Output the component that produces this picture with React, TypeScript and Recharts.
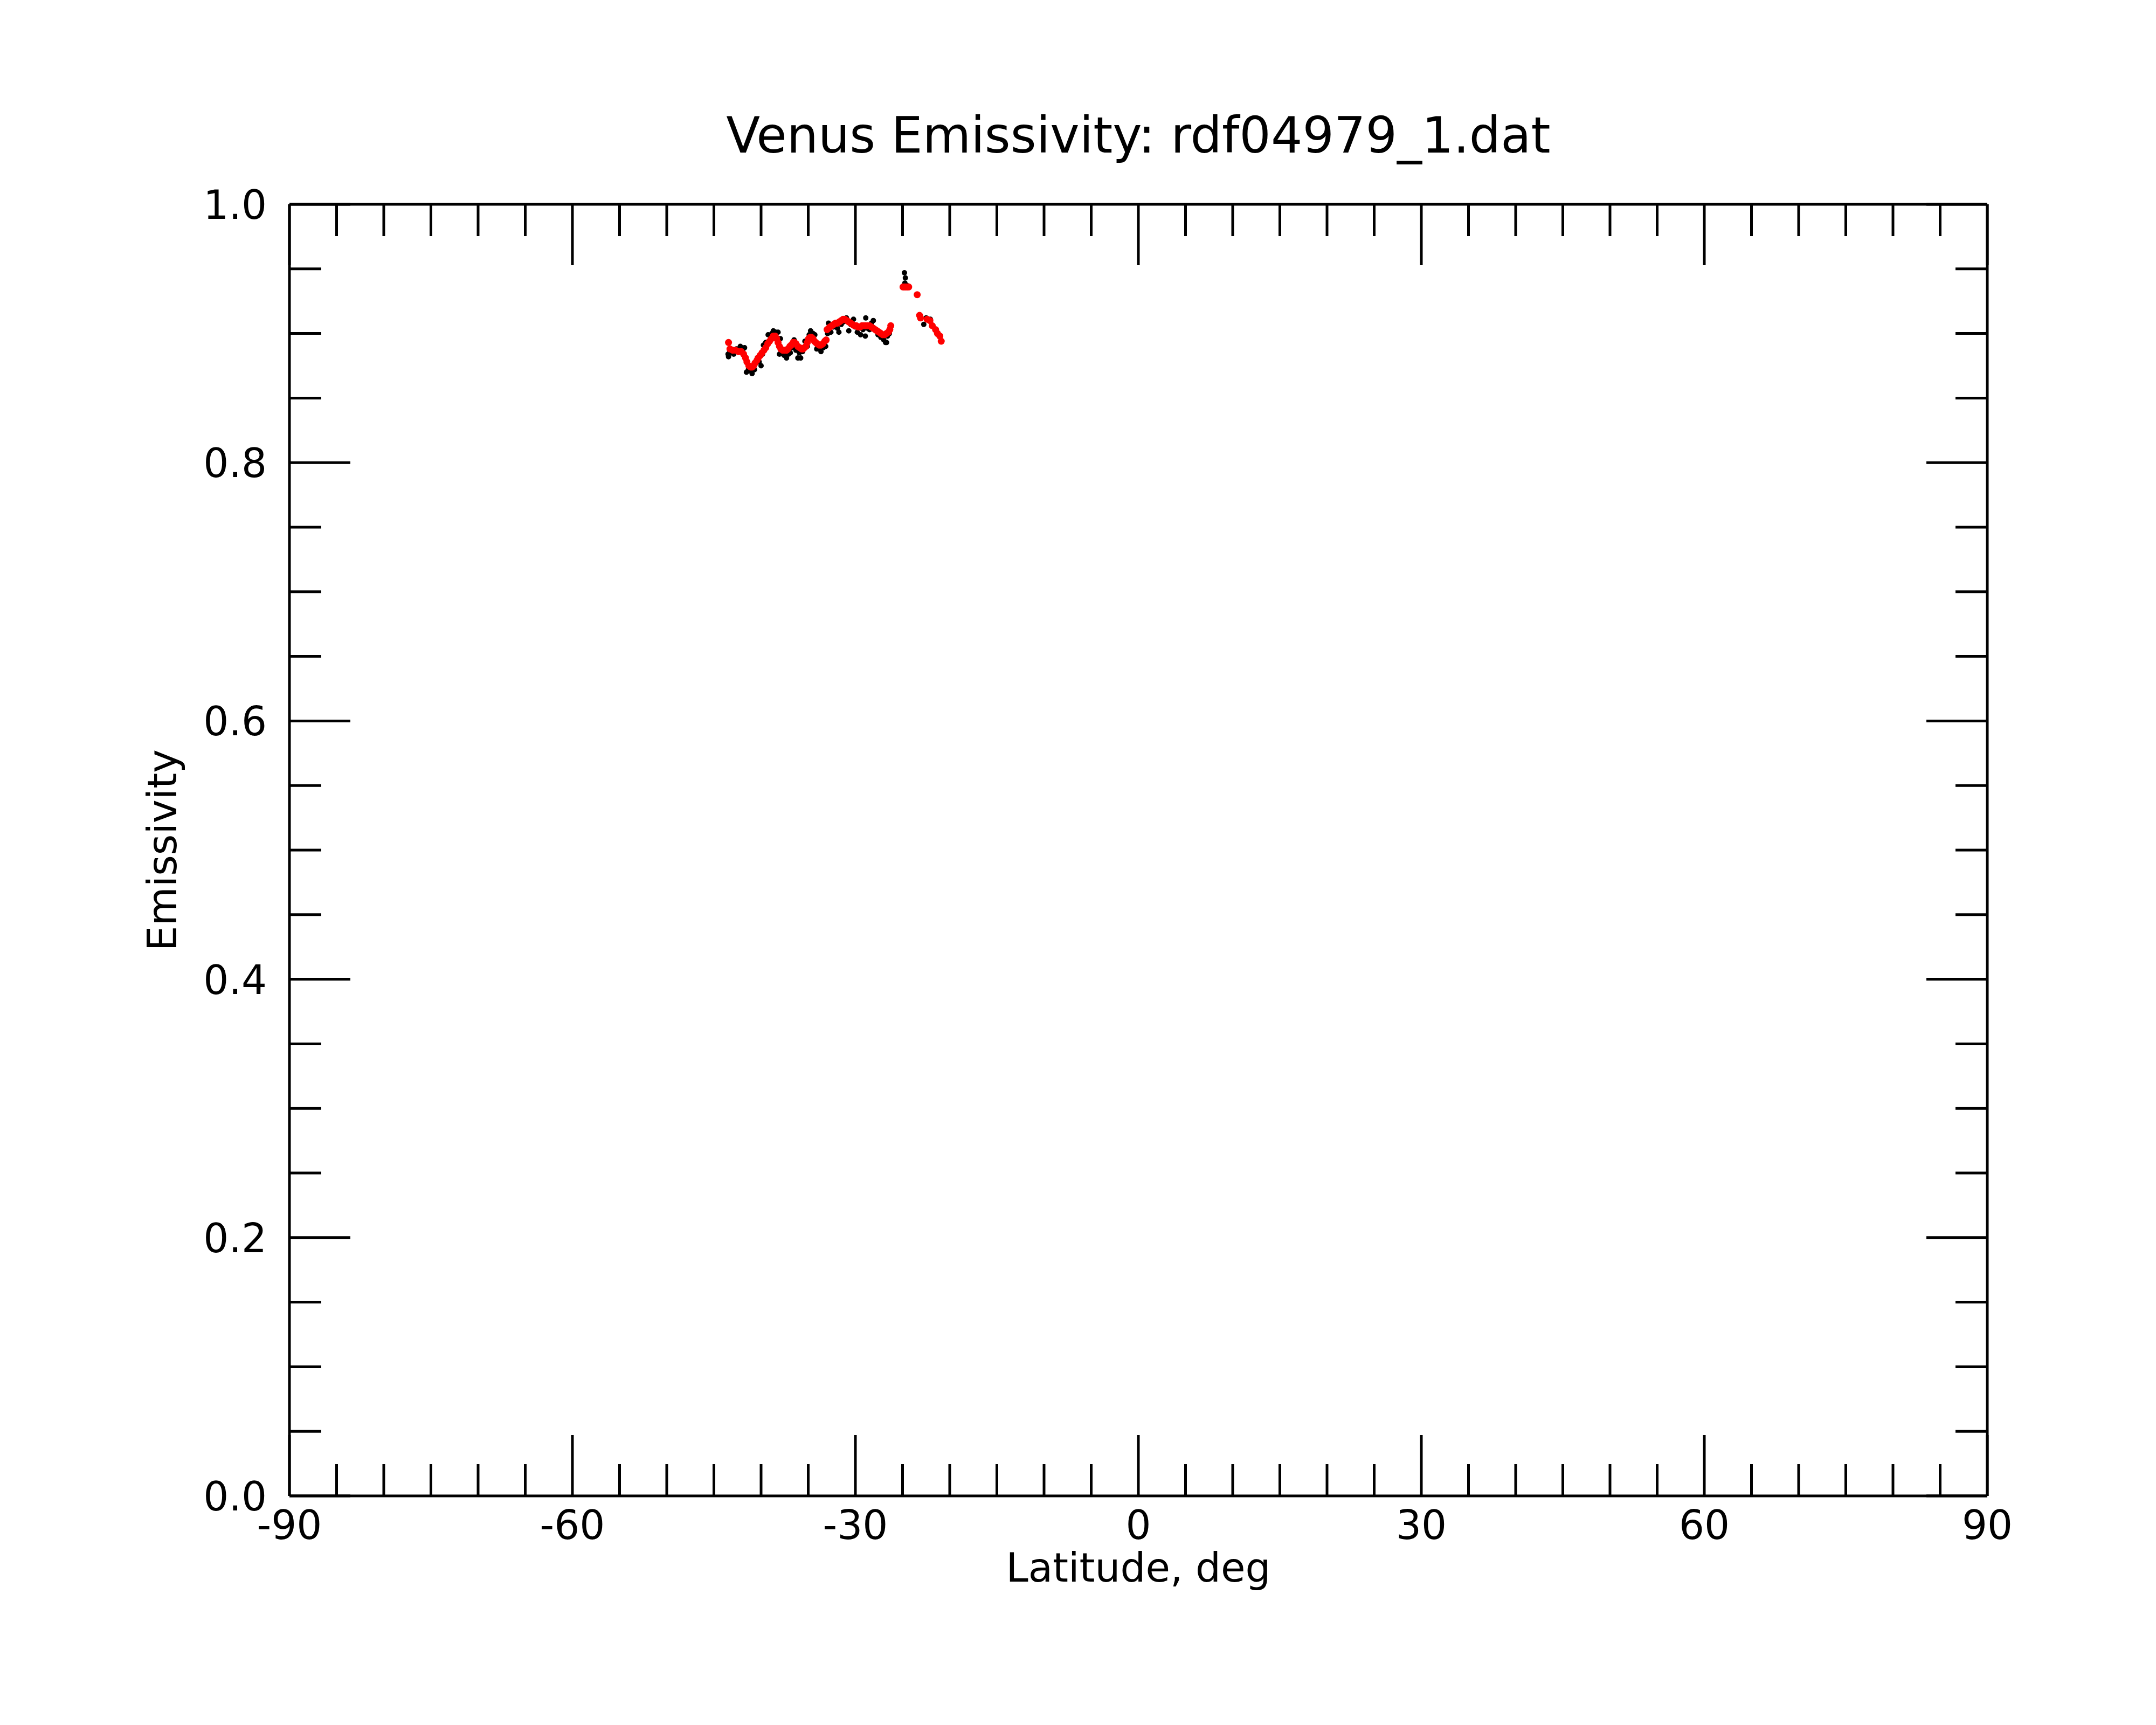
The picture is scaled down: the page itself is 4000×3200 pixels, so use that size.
import React from 'react';
import { ScatterChart, Scatter, XAxis, YAxis, Label } from 'recharts';

// raw emissivity samples (black)
const rawLat = [
  -43.5, -43.45, -43.3, -43.1, -42.9, -42.6, -42.4, -42.2, -41.95, -41.75,
  -41.55, -41.35, -41.15, -40.95, -40.7, -40.55, -40.4, -40.2, -40.0, -39.85,
  -39.75, -39.5, -39.25, -39.0, -38.85, -38.7, -38.45, -38.2, -38.05, -37.95,
  -37.75, -37.55, -37.3, -37.1, -36.9, -36.7, -36.5, -36.3, -36.1, -35.95,
  -35.8, -35.6, -35.35, -35.1, -34.9, -34.75, -34.5, -34.3, -34.1, -33.9,
  -33.65, -33.4, -33.15, -32.95, -32.85, -32.6, -32.35, -32.1, -31.9, -31.75,
  -31.5, -31.25, -30.95, -30.7, -30.5, -30.2, -30.0, -29.8, -29.45, -29.2,
  -28.95, -28.9, -28.7, -28.5, -28.3, -28.1, -27.9, -27.6, -27.3, -27.0,
  -26.8, -26.7, -26.6, -26.4, -24.8, -24.7, -24.75, -24.5, -22.75, -22.5,
  -22.05,
];
const rawEmis = [
  0.884, 0.882, 0.886, 0.885, 0.884, 0.888, 0.887, 0.890, 0.887, 0.889,
  0.870, 0.872, 0.871, 0.869, 0.872, 0.877, 0.881, 0.878, 0.875, 0.884,
  0.891, 0.893, 0.899, 0.898, 0.900, 0.902, 0.901, 0.901, 0.884, 0.896,
  0.886, 0.883, 0.881, 0.884, 0.885, 0.889, 0.895, 0.887, 0.881, 0.885,
  0.881, 0.886, 0.894, 0.890, 0.899, 0.902, 0.900, 0.899, 0.888, 0.889,
  0.886, 0.889, 0.890, 0.900, 0.908, 0.901, 0.905, 0.908, 0.904, 0.901,
  0.907, 0.909, 0.912, 0.902, 0.907, 0.911, 0.905, 0.901, 0.899, 0.903,
  0.898, 0.912, 0.904, 0.903, 0.908, 0.910, 0.903, 0.899, 0.897, 0.895,
  0.893, 0.893, 0.898, 0.900, 0.947, 0.943, 0.939, 0.937, 0.907, 0.912,
  0.911,
];

// filtered emissivity (red)
const fitLat = [
  -43.45, -43.3, -43.0, -42.7, -42.4, -42.1, -41.85, -41.65, -41.5, -41.3,
  -41.1, -40.95, -40.8, -40.65, -40.45, -40.3, -40.1, -39.9, -39.7, -39.5,
  -39.3, -39.1, -38.9, -38.7, -38.5, -38.35, -38.2, -38.05, -37.9, -37.7,
  -37.5, -37.3, -37.15, -36.95, -36.8, -36.6, -36.45, -36.3, -36.1, -35.9,
  -35.7, -35.55, -35.4, -35.25, -35.1, -34.95, -34.8, -34.65, -34.5, -34.35,
  -34.2, -34.05, -33.85, -33.65, -33.45, -33.25, -33.1, -33.0, -32.85, -32.7,
  -32.5, -32.3, -32.1, -31.9, -31.7, -31.5, -31.3, -31.1, -30.9, -30.7,
  -30.5, -30.3, -30.1, -29.9, -29.7, -29.5, -29.3, -29.1, -28.9, -28.7,
  -28.5, -28.3, -28.1, -27.9, -27.7, -27.5, -27.3, -27.1, -26.9, -26.7,
  -26.5, -26.35, -26.25, -24.95, -24.75, -24.55, -24.35, -23.45, -23.2, -23.1,
  -22.4, -22.1, -21.85, -21.5, -21.3, -21.05, -20.9,
];
const fitEmis = [
  0.893, 0.888, 0.887, 0.887, 0.886, 0.886, 0.884, 0.881, 0.878, 0.875,
  0.874, 0.874, 0.875, 0.877, 0.879, 0.881, 0.883, 0.885, 0.887, 0.889,
  0.892, 0.894, 0.896, 0.898, 0.898, 0.896, 0.893, 0.890, 0.888, 0.887,
  0.887, 0.887, 0.888, 0.890, 0.891, 0.893, 0.893, 0.892, 0.890, 0.889,
  0.888, 0.888, 0.889, 0.890, 0.893, 0.896, 0.897, 0.897, 0.896, 0.894,
  0.893, 0.892, 0.891, 0.891, 0.892, 0.894, 0.895, 0.903, 0.904, 0.905,
  0.906, 0.907, 0.908, 0.908, 0.909, 0.910, 0.911, 0.911, 0.910, 0.909,
  0.908, 0.907, 0.906, 0.906, 0.905, 0.905, 0.906, 0.906, 0.906, 0.906,
  0.906, 0.905, 0.904, 0.903, 0.902, 0.901, 0.900, 0.899, 0.899, 0.900,
  0.901, 0.903, 0.906, 0.936, 0.936, 0.936, 0.936, 0.930, 0.914, 0.912,
  0.911, 0.910, 0.906, 0.903, 0.900, 0.898, 0.894,
];

const latTicks = [
  -90, -85, -80, -75, -70, -65, -60, -55, -50, -45, -40, -35, -30, -25, -20, -15, -10, -5,
  0, 5, 10, 15, 20, 25, 30, 35, 40, 45, 50, 55, 60, 65, 70, 75, 80, 85, 90,
];
const emisTicks = [
  0, 0.05, 0.1, 0.15, 0.2, 0.25, 0.3, 0.35, 0.4, 0.45, 0.5,
  0.55, 0.6, 0.65, 0.7, 0.75, 0.8, 0.85, 0.9, 0.95, 1.0,
];

const rawData = rawLat.map((lat, i) => ({ lat, emis: rawEmis[i] }));
const fitData = fitLat.map((lat, i) => ({ lat, emis: fitEmis[i] }));

const FONT = 'DejaVu Sans';
const TICK_FS = 74;
const MAJOR = 113;
const MINOR = 59;
const LW = 5;

const isMajorLat = (v: number) => Math.abs(v % 30) < 1e-6;
const isMajorEmis = (v: number) => Math.abs(v * 5 - Math.round(v * 5)) < 1e-6;

const BottomTick = (props: any) => {
  const { x, y, payload } = props;
  const major = isMajorLat(payload.value);
  return (
    <g>
      <line x1={x} x2={x} y1={y} y2={y - (major ? MAJOR : MINOR)} stroke="#000" strokeWidth={LW} />
      {major && (
        <text x={x} y={y + 80} textAnchor="middle" fontFamily={FONT} fontSize={TICK_FS} fill="#000">
          {String(payload.value)}
        </text>
      )}
    </g>
  );
};

const TopTick = (props: any) => {
  const { x, y, payload } = props;
  const major = isMajorLat(payload.value);
  return <line x1={x} x2={x} y1={y} y2={y + (major ? MAJOR : MINOR)} stroke="#000" strokeWidth={LW} />;
};

const LeftTick = (props: any) => {
  const { x, y, payload } = props;
  const major = isMajorEmis(payload.value);
  return (
    <g>
      <line x1={x} x2={x + (major ? MAJOR : MINOR)} y1={y} y2={y} stroke="#000" strokeWidth={LW} />
      {major && (
        <text x={x - 42} y={y + 27} textAnchor="end" fontFamily={FONT} fontSize={TICK_FS} fill="#000">
          {payload.value.toFixed(1)}
        </text>
      )}
    </g>
  );
};

const RightTick = (props: any) => {
  const { x, y, payload } = props;
  const major = isMajorEmis(payload.value);
  return <line x1={x} x2={x - (major ? MAJOR : MINOR)} y1={y} y2={y} stroke="#000" strokeWidth={LW} />;
};

const axisLine = { stroke: '#000', strokeWidth: LW };

export default function App() {
  return (
    <div style={{ position: 'absolute', left: 0, top: 0, width: 4000, height: 3200, background: '#fff' }}>
      <ScatterChart width={4000} height={3200} margin={{ top: 0, right: 0, bottom: 0, left: 0 }}>
        <XAxis
          xAxisId={0}
          dataKey="lat"
          type="number"
          domain={[-90, 90]}
          ticks={latTicks}
          interval={0}
          height={425}
          tickSize={0}
          tickMargin={0}
          tickLine={false}
          axisLine={axisLine}
          tick={<BottomTick />}
          allowDataOverflow
        >
          <Label
            content={() => (
              <text x={2112} y={2934} textAnchor="middle" fontFamily={FONT} fontSize={TICK_FS} fill="#000">
                Latitude, deg
              </text>
            )}
          />
        </XAxis>
        <XAxis
          xAxisId="t"
          orientation="top"
          dataKey="lat"
          type="number"
          domain={[-90, 90]}
          ticks={latTicks}
          interval={0}
          height={379}
          tickSize={0}
          tickMargin={0}
          tickLine={false}
          axisLine={axisLine}
          tick={<TopTick />}
          allowDataOverflow
        >
          <Label
            content={() => (
              <text x={2112} y={283} textAnchor="middle" fontFamily={FONT} fontSize={92} fill="#000">
                Venus Emissivity: rdf04979_1.dat
              </text>
            )}
          />
        </XAxis>
        <YAxis
          yAxisId={0}
          dataKey="emis"
          type="number"
          domain={[0, 1]}
          ticks={emisTicks}
          interval={0}
          width={537}
          tickSize={0}
          tickMargin={0}
          tickLine={false}
          axisLine={axisLine}
          tick={<LeftTick />}
          allowDataOverflow
        >
          <Label
            content={() => (
              <text
                x={327}
                y={1577}
                textAnchor="middle"
                fontFamily={FONT}
                fontSize={TICK_FS}
                fill="#000"
                transform="rotate(-90 327 1577)"
              >
                Emissivity
              </text>
            )}
          />
        </YAxis>
        <YAxis
          yAxisId="r"
          orientation="right"
          dataKey="emis"
          type="number"
          domain={[0, 1]}
          ticks={emisTicks}
          interval={0}
          width={313}
          tickSize={0}
          tickMargin={0}
          tickLine={false}
          axisLine={axisLine}
          tick={<RightTick />}
          allowDataOverflow
        />
        <Scatter
          name="raw"
          data={rawData}
          xAxisId={0}
          yAxisId={0}
          isAnimationActive={false}
          shape={(p: any) => <circle cx={p.cx} cy={p.cy} r={5} fill="#000" />}
        />
        <Scatter
          name="filtered"
          data={fitData}
          xAxisId={0}
          yAxisId={0}
          isAnimationActive={false}
          shape={(p: any) => <circle cx={p.cx} cy={p.cy} r={6.5} fill="#ff0000" />}
        />
      </ScatterChart>
    </div>
  );
}
